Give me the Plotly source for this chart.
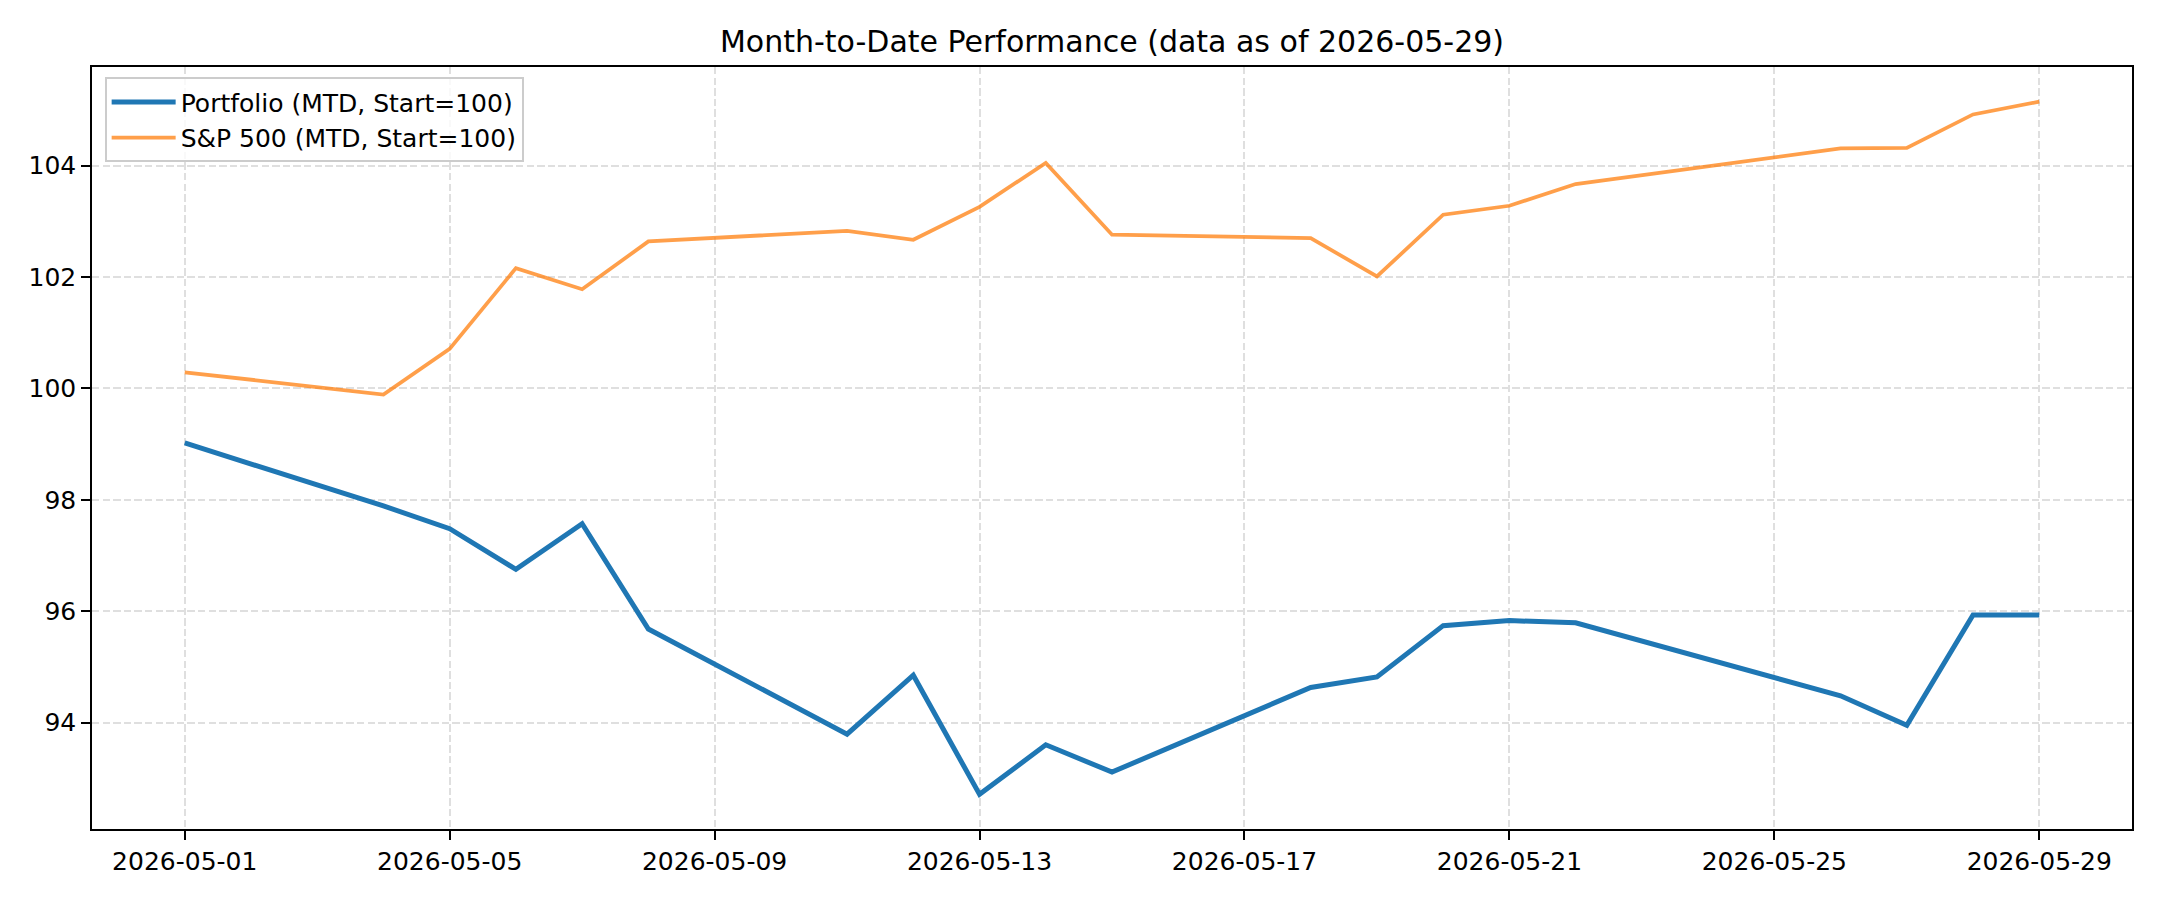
import pandas as pd
import plotly.graph_objects as go

dates = ["2026-05-01", "2026-05-04", "2026-05-05", "2026-05-06", "2026-05-07",
         "2026-05-08", "2026-05-11", "2026-05-12", "2026-05-13", "2026-05-14",
         "2026-05-15", "2026-05-18", "2026-05-19", "2026-05-20", "2026-05-21",
         "2026-05-22", "2026-05-26", "2026-05-27", "2026-05-28", "2026-05-29"]

portfolio = [99.02, 97.89, 97.48, 96.75, 97.57, 95.68, 93.79, 94.85, 92.71, 93.60,
             93.11, 94.63, 94.82, 95.74, 95.83, 95.79, 94.48, 93.95, 95.93, 95.93]

sp500 = [100.29, 99.89, 100.71, 102.16, 101.78, 102.64, 102.83, 102.67, 103.26, 104.05,
         102.76, 102.70, 102.01, 103.12, 103.28, 103.67, 104.31, 104.32, 104.92, 105.15]

y_ticks = [94, 96, 98, 100, 102, 104]
x_tick_start = "2026-05-01"
x_tick_step_days = 4

title_text = "Month-to-Date Performance (data as of 2026-05-29)"
name_portfolio = "Portfolio (MTD, Start=100)"
name_sp = "S&P 500 (MTD, Start=100)"

FONT = "DejaVu Sans"

d = pd.to_datetime(dates)
span = d.max() - d.min()
x_range = [d.min() - 0.05 * span, d.max() + 0.05 * span]
all_vals = portfolio + sp500
vmin, vmax = min(all_vals), max(all_vals)
vspan = vmax - vmin
y_range = [vmin - 0.05 * vspan, vmax + 0.05 * vspan]

fig = go.Figure()
fig.add_trace(go.Scatter(x=dates, y=portfolio, mode="lines", name=name_portfolio,
                         line=dict(color="#1f77b4", width=5)))
fig.add_trace(go.Scatter(x=dates, y=sp500, mode="lines", name=name_sp,
                         line=dict(color="rgba(255,127,14,0.75)", width=3.75)))

axis_common = dict(
    showline=True, linecolor="black", linewidth=2, mirror=True,
    ticks="outside", ticklen=8.75, tickwidth=2, tickcolor="black",
    showgrid=True, gridcolor="#dfdfdf", gridwidth=2, griddash="7.4px,3.2px",
    zeroline=False,
    tickfont=dict(family=FONT, size=25, color="black"),
)

fig.update_xaxes(
    type="date", range=[x.strftime("%Y-%m-%d %H:%M:%S") for x in x_range],
    tick0=x_tick_start, dtick=x_tick_step_days * 86400000, tickformat="%Y-%m-%d",
    **axis_common,
)
fig.update_yaxes(range=y_range, tickvals=y_ticks, ticktext=[str(v) for v in y_ticks],
                 **axis_common)

fig.update_layout(
    width=2160, height=900,
    margin=dict(l=92, r=28, t=67, b=71),
    paper_bgcolor="white", plot_bgcolor="white",
    title=dict(text=title_text, x=(92 + 1020) / 2160, xanchor="center",
               y=1 - 41 / 900, yanchor="middle", yref="container",
               font=dict(family=FONT, size=30, color="black")),
    showlegend=True,
    legend=dict(x=0.0062, y=0.9865, xanchor="left", yanchor="top",
                bgcolor="rgba(255,255,255,0.8)", bordercolor="#cccccc", borderwidth=2,
                font=dict(family=FONT, size=25, color="black"),
                itemwidth=64, tracegroupgap=0),
    font=dict(family=FONT, color="black"),
)

fig.write_html("out.html")
